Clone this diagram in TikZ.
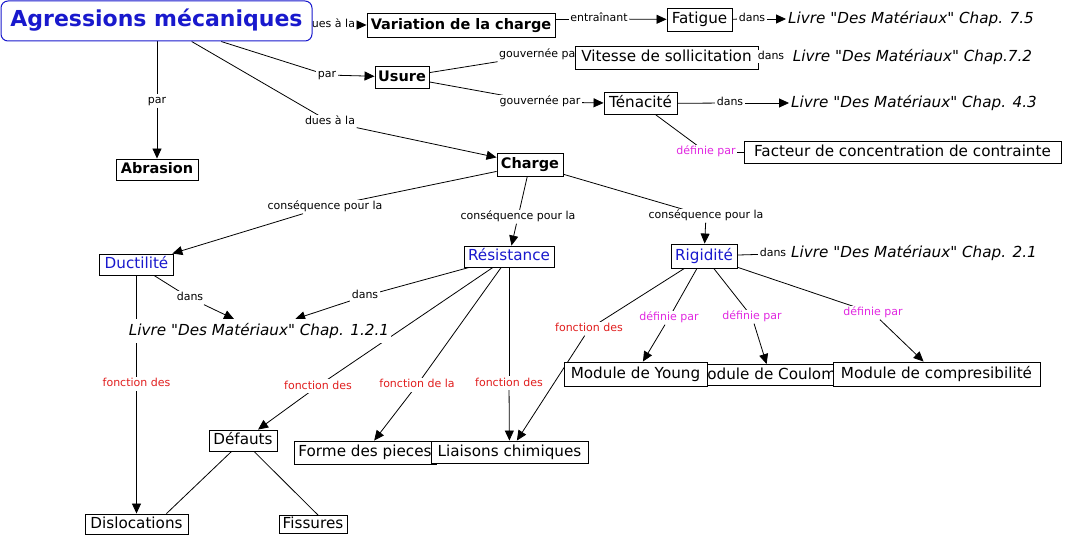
\documentclass[tikz,border=0pt]{standalone}
\usepackage{fontspec}
\setmainfont{DejaVu Sans}[Ligatures=TeXOff]
\usetikzlibrary{arrows.meta,backgrounds}
\definecolor{cblue}{RGB}{25,25,205}
\definecolor{cred}{RGB}{225,30,30}
\definecolor{cmag}{RGB}{225,40,225}
\newcommand\fsNode{\fontsize{15.2}{18}\selectfont}
\newcommand\fsBold{\fontsize{14.5}{18}\selectfont\bfseries}
\newcommand\fsLab{\fontsize{11}{13}\selectfont}
\newcommand\fsTitle{\fontsize{22}{26}\selectfont\bfseries}
\tikzset{
  box/.style={draw=black, line width=0.9pt, fill=white, inner sep=0pt, font=\fsNode, text height=11.5pt, text depth=3pt},
  bbox/.style={box, font=\fsBold},
  lab/.style={fill=white, inner sep=1.5pt, font=\fsLab, text height=8pt, text depth=2pt},
  redlab/.style={lab, text=cred},
  maglab/.style={lab, text=cmag},
  bookref/.style={fill=white, inner xsep=2pt, inner ysep=4.5pt, font=\fsNode\itshape, text height=11.5pt, text depth=3pt},
  con/.style={line width=0.8pt},
  arr/.style={con, -{Triangle[length=10pt,width=9pt]}},
}
\begin{document}
\begin{tikzpicture}[x=1pt,y=-1pt]
\useasboundingbox (0,0) rectangle (1066,537);
% labels hidden partly below nodes come first
\node[lab] (lVar) at (330,25) {dues à la};
\node[lab] (lGouv1) at (539.5,55) {gouvernée par};
\node[box, draw=cblue, line width=1pt, rounded corners=7pt, font=\fsTitle, text=cblue, text height=16pt, text depth=4.5pt, minimum width=311pt, minimum height=40pt] (agr) at (156.5,21) {Agressions mécaniques};
\node[bbox, minimum width=188pt, minimum height=24pt] (var) at (461,25) {Variation de la charge};
\node[lab] (lEnt) at (599,19) {entraînant};
\node[box, minimum width=65pt, minimum height=23pt] (fat) at (699.5,19.5) {Fatigue};
\node[lab] (lD75) at (752,19) {dans};
\node[bookref] (L75) at (911,19) {Livre "Des Matériaux" Chap. 7.5};
\node[box, minimum width=183pt, minimum height=23pt] (vit) at (666.5,57.5) {Vitesse de sollicitation};
\node[lab] (lD72) at (771,57) {dans};
\node[bookref] (L72) at (912.5,57) {Livre "Des Matériaux" Chap.7.2};
\node[bbox, minimum width=54pt, minimum height=22pt] (usu) at (402,77) {Usure};
\node[lab] (lPar2) at (327,75) {par};
\node[lab] (lDues) at (330,122) {dues à la};
\node[lab] (lGouv2) at (540,102) {gouvernée par};
\node[box, minimum width=73pt, minimum height=22pt] (ten) at (640.5,103.5) {Ténacité};
\node[lab] (lD43) at (730,103) {dans};
\node[bookref] (L43) at (914,103) {Livre "Des Matériaux" Chap. 4.3};
\node[maglab] (lDef1) at (706,152) {définie par};
\node[box, minimum width=317pt, minimum height=22pt] (fac) at (902.5,152) {Facteur de concentration de contrainte};
\node[lab] (lPar1) at (157,101) {par};
\node[bbox, minimum width=82pt, minimum height=21pt] (abr) at (157,169.5) {Abrasion};
\node[bbox, minimum width=66pt, minimum height=23pt] (cha) at (530,164.5) {Charge};
\node[lab] (lCons1) at (325,207) {conséquence pour la};
\node[lab] (lCons2) at (518,217) {conséquence pour la};
\node[lab] (lCons3) at (706,216) {conséquence pour la};
\node[box, text=cblue, minimum width=74pt, minimum height=21pt] (duc) at (136.5,264.5) {Ductilité};
\node[box, text=cblue, minimum width=90pt, minimum height=21pt] (res) at (509,256.5) {Résistance};
\node[box, text=cblue, minimum width=66pt, minimum height=24pt] (rig) at (704,256) {Rigidité};
\node[lab] (lD21) at (773,254) {dans};
\node[bookref] (L21) at (914,253) {Livre "Des Matériaux" Chap. 2.1};
\node[lab] (lDans1) at (190,298) {dans};
\node[lab] (lDans2) at (365,296) {dans};
\node[bookref] (L121) at (259,331) {Livre "Des Matériaux" Chap. 1.2.1};
\node[redlab] (lFon1) at (136.5,384) {fonction des};
\node[redlab] (lFon2) at (318,386) {fonction des};
\node[redlab] (lFon3) at (417,385) {fonction de la};
\node[redlab] (lFon4) at (509,383) {fonction des};
\node[redlab] (lFon5) at (589,329) {fonction des};
\node[maglab] (lDef2) at (669,318) {définie par};
\node[maglab] (lDef3) at (752,317) {définie par};
\node[maglab] (lDef4) at (873,313) {définie par};
\node[box, minimum width=152pt, minimum height=21pt] (cou) at (770,375) {Module de Coulomb};
\node[box, minimum width=143pt, minimum height=24pt] (you) at (635.5,374) {Module de Young};
\node[box, minimum width=207pt, minimum height=24pt] (com) at (936.5,374) {Module de compresibilité};
\node[box, minimum width=68pt, minimum height=21pt] (def) at (243,440.5) {Défauts};
\node[box, minimum width=142pt, minimum height=23pt] (for) at (365,452.5) {Forme des pieces};
\node[box, minimum width=157pt, minimum height=22pt] (lia) at (509.5,452) {Liaisons chimiques};
\node[box, minimum width=103pt, minimum height=20pt] (dis) at (136.5,524) {Dislocations};
\node[box, minimum width=68pt, minimum height=18pt] (fis) at (313,524.5) {Fissures};

\begin{scope}[on background layer]
  \draw[arr] (lVar) -- (var);
  \draw[con] (var.east |- lEnt) -- (lEnt);
  \draw[arr] (lEnt) -- (fat);
  \draw[con] (fat) -- (lD75);
  \draw[arr] (lD75) -- (L75);
  \draw[con] (agr.south -| lPar1) -- (lPar1);
  \draw[arr] (lPar1) -- (abr);
  \draw[con] (agr) -- (lPar2);
  \draw[arr] (lPar2) -- (usu);
  \draw[con] (agr) -- (lDues);
  \draw[arr] (lDues) -- (cha);
  \draw[con] (usu) -- (lGouv1);
  \draw[con] (usu) -- (lGouv2);
  \draw[arr] (lGouv2) -- (ten);
  \draw[con] (ten) -- (lD43);
  \draw[arr] (lD43) -- (L43);
  \draw[con] (ten) -- (lDef1);
  \draw[con] (lDef1) -- (fac);
  \draw[con] (cha) -- (lCons1);
  \draw[arr] (lCons1) -- (duc);
  \draw[con] (cha) -- (lCons2);
  \draw[arr] (lCons2) -- (res);
  \draw[con] (cha) -- (lCons3);
  \draw[arr] (lCons3) -- (rig);
  \draw[con] (rig) -- (lD21);
  \draw[con] (duc) -- (lDans1);
  \draw[arr] (lDans1) -- (L121);
  \draw[con] (res) -- (lDans2);
  \draw[arr] (lDans2) -- (L121);
  \draw[con] (duc) -- (lFon1);
  \draw[arr] (lFon1) -- (dis);
  \draw[con] (res) -- (lFon2);
  \draw[arr] (lFon2) -- (def);
  \draw[con] (res) -- (lFon3);
  \draw[arr] (lFon3) -- (for);
  \draw[con] (res) -- (lFon4);
  \draw[arr] (lFon4) -- (lia);
  \draw[con] (rig) -- (lFon5);
  \draw[arr] (lFon5) -- (lia);
  \draw[con] (rig) -- (lDef2);
  \draw[arr] (lDef2) -- (you);
  \draw[con] (rig) -- (lDef3);
  \draw[arr] (lDef3) -- (cou);
  \draw[con] (rig) -- (lDef4);
  \draw[arr] (lDef4) -- (com);
  \draw[con] (def) -- ([xshift=30pt]dis.north);
  \draw[con] (def) -- ([xshift=5pt]fis.north);
\end{scope}
\end{tikzpicture}
\end{document}
